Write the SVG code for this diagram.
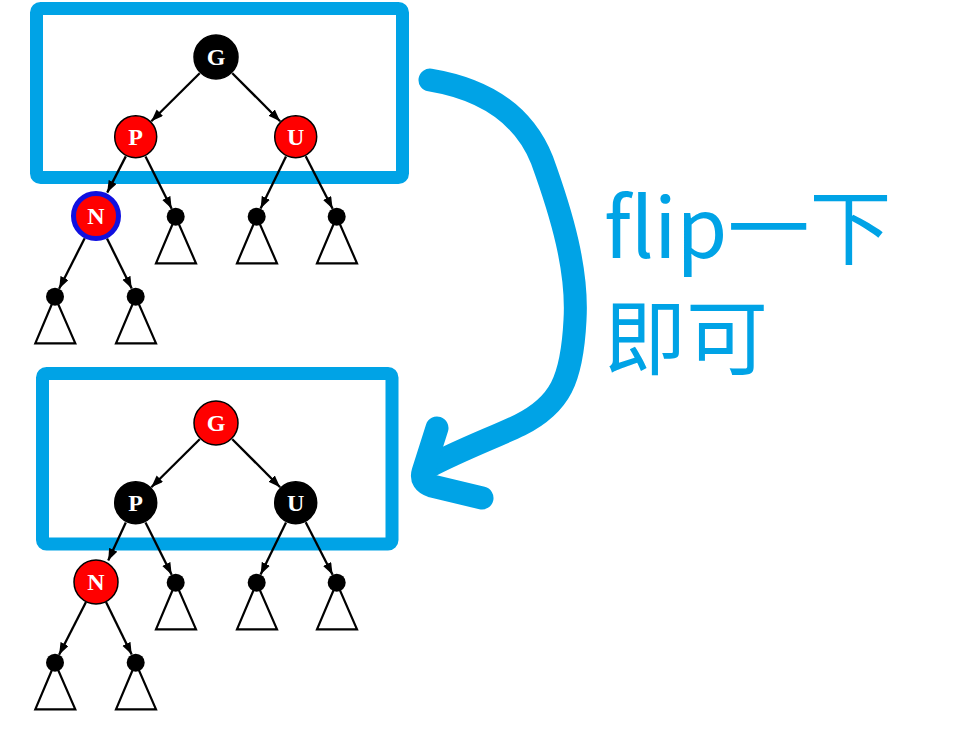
<svg xmlns="http://www.w3.org/2000/svg" width="978" height="755" viewBox="0 0 978 755">
<style>
.frame{fill:none;stroke:#00A3E6;stroke-width:13;stroke-linejoin:round}
.red{fill:#FF0000;stroke:#000;stroke-width:1.5}
.black{fill:#000;stroke:#000;stroke-width:1.5}
.ring{fill:#FF0000;stroke:#1010E0;stroke-width:5}
.lbl{font-family:"Liberation Serif","Times New Roman",serif;font-weight:bold;font-size:24px;fill:#fff;text-anchor:middle}
.edge{stroke:#000;stroke-width:2.3;fill:none;marker-end:url(#ah)}
.tri{fill:#fff;stroke:#000;stroke-width:2.2;stroke-linejoin:miter}
.dot{fill:#000}
.big{fill:none;stroke:#00A3E6;stroke-width:23;stroke-linecap:round;stroke-linejoin:round}
.note{font-family:"Noto Sans CJK SC","Noto Sans",sans-serif;font-size:82px;fill:#00A3E6}
</style>
<defs>
<marker id="ah" markerUnits="userSpaceOnUse" markerWidth="13" markerHeight="10" refX="12" refY="4.5" orient="auto">
<path d="M0,0 L12,4.5 L0,9 z" fill="#000"/>
</marker>
</defs>

<!-- top frame -->
<rect id="frame-top" class="frame" x="36.5" y="8.5" width="366" height="169" rx="4"/>
<!-- bottom frame -->
<rect id="frame-bottom" class="frame" x="42.5" y="373.5" width="349.5" height="170.5" rx="4"/>

<!-- top tree -->
<g id="tree-top">
<g id="connectors-top">
<line class="edge" x1="199.7" y1="73.2" x2="151.3" y2="121.2"/>
<line class="edge" x1="232.3" y1="73.2" x2="280.1" y2="121.2"/>
<line class="edge" x1="125.8" y1="156.4" x2="107.2" y2="192.6"/>
<line class="edge" x1="145.5" y1="156.4" x2="171.7" y2="208.7"/>
<line class="edge" x1="286" y1="156.5" x2="260.6" y2="208.6"/>
<line class="edge" x1="305.7" y1="156.3" x2="332.6" y2="208.7"/>
<line class="edge" x1="84.7" y1="238.3" x2="59.1" y2="288.7"/>
<line class="edge" x1="107" y1="238.4" x2="131.7" y2="288.6"/>
</g>
<g id="top-G"><circle class="black" cx="216" cy="57" r="22"/><text class="lbl" x="216" y="65">G</text></g>
<g id="top-P"><circle class="red" cx="135.7" cy="136.7" r="21"/><text class="lbl" x="135.7" y="144.7">P</text></g>
<g id="top-U"><circle class="red" cx="295.7" cy="136.7" r="21"/><text class="lbl" x="295.7" y="144.7">U</text></g>
<g id="top-N"><circle class="ring" cx="96" cy="216" r="22.5"/><text class="lbl" x="96" y="224">N</text></g>
<g id="top-L1"><path class="tri" d="M175.7,216.7 L156,263.3 L196,263.3 Z"/><circle class="dot" cx="175.7" cy="216.7" r="9"/></g>
<g id="top-L2"><path class="tri" d="M256.7,216.7 L237,263.3 L277,263.3 Z"/><circle class="dot" cx="256.7" cy="216.7" r="9"/></g>
<g id="top-L3"><path class="tri" d="M336.7,216.7 L317,263.3 L357,263.3 Z"/><circle class="dot" cx="336.7" cy="216.7" r="9"/></g>
<g id="top-L4"><path class="tri" d="M55,296.7 L35.3,343.3 L75.3,343.3 Z"/><circle class="dot" cx="55" cy="296.7" r="9"/></g>
<g id="top-L5"><path class="tri" d="M135.7,296.7 L116,343.3 L156,343.3 Z"/><circle class="dot" cx="135.7" cy="296.7" r="9"/></g>
</g>

<!-- bottom tree -->
<g id="tree-bottom" transform="translate(0,366)">
<g id="connectors-bottom">
<line class="edge" x1="199.7" y1="73.2" x2="151.3" y2="121.2"/>
<line class="edge" x1="232.3" y1="73.2" x2="280.1" y2="121.2"/>
<line class="edge" x1="125.8" y1="156.4" x2="108.2" y2="194.6"/>
<line class="edge" x1="145.5" y1="156.4" x2="171.7" y2="208.7"/>
<line class="edge" x1="286" y1="156.5" x2="260.6" y2="208.6"/>
<line class="edge" x1="305.7" y1="156.3" x2="332.6" y2="208.7"/>
<line class="edge" x1="86" y1="236" x2="59.1" y2="288.7"/>
<line class="edge" x1="106" y1="236" x2="131.7" y2="288.6"/>
</g>
<g id="bottom-G"><circle class="red" cx="216" cy="57" r="22"/><text class="lbl" x="216" y="65">G</text></g>
<g id="bottom-P"><circle class="black" cx="135.7" cy="136.7" r="21"/><text class="lbl" x="135.7" y="144.7">P</text></g>
<g id="bottom-U"><circle class="black" cx="295.7" cy="136.7" r="21"/><text class="lbl" x="295.7" y="144.7">U</text></g>
<g id="bottom-N"><circle class="red" cx="96" cy="216" r="22"/><text class="lbl" x="96" y="224">N</text></g>
<g id="bottom-L1"><path class="tri" d="M175.7,216.7 L156,263.3 L196,263.3 Z"/><circle class="dot" cx="175.7" cy="216.7" r="9"/></g>
<g id="bottom-L2"><path class="tri" d="M256.7,216.7 L237,263.3 L277,263.3 Z"/><circle class="dot" cx="256.7" cy="216.7" r="9"/></g>
<g id="bottom-L3"><path class="tri" d="M336.7,216.7 L317,263.3 L357,263.3 Z"/><circle class="dot" cx="336.7" cy="216.7" r="9"/></g>
<g id="bottom-L4"><path class="tri" d="M55,296.7 L35.3,343.3 L75.3,343.3 Z"/><circle class="dot" cx="55" cy="296.7" r="9"/></g>
<g id="bottom-L5"><path class="tri" d="M135.7,296.7 L116,343.3 L156,343.3 Z"/><circle class="dot" cx="135.7" cy="296.7" r="9"/></g>
</g>

<!-- big curved arrow -->
<g id="flip-arrow">
<path class="big" d="M430,80 C478,88 522,110 542,160 C562,215 578,270 575,320 C572,380 560,405 520,425 C495,437 460,450 428,467"/>
<path class="big" d="M437,428 L423,472 Q420,482 432,486 L482,498"/>
</g>

<g id="note">
<text class="note" x="604" y="258">flip一下</text>
<text class="note" x="604" y="368">即可</text>
</g>
</svg>
